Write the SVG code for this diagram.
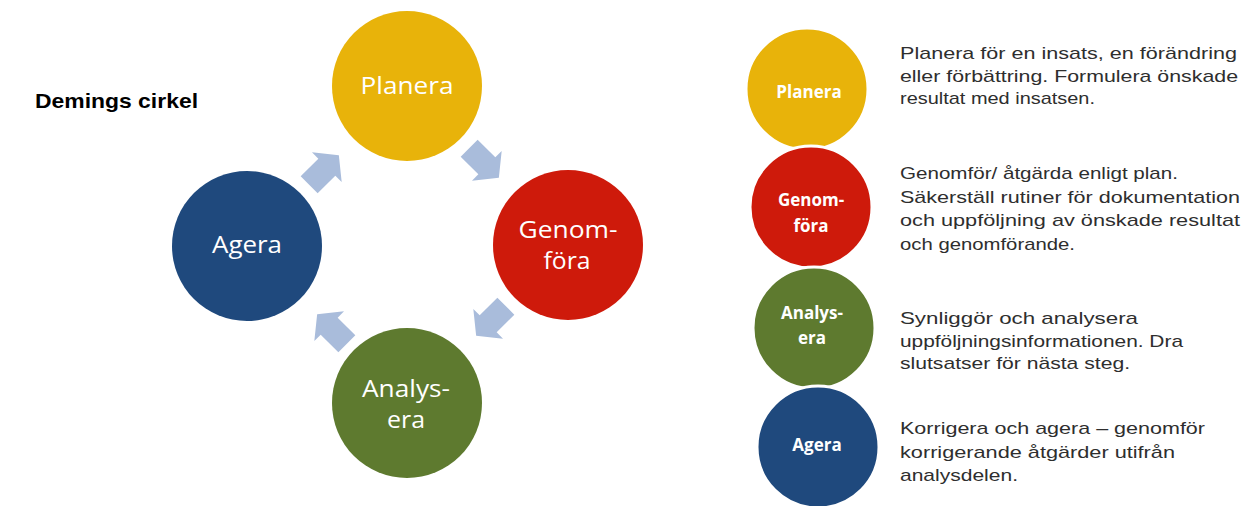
<svg xmlns="http://www.w3.org/2000/svg" width="1245" height="506" viewBox="0 0 1245 506">
  <style>
    .big { font-family: "Open Sans", "Noto Sans", sans-serif; font-size: 24px; fill: #ffffff; text-anchor: middle; }
    .small { font-family: "Open Sans", "Noto Sans", sans-serif; font-size: 17px; font-weight: bold; fill: #ffffff; text-anchor: middle; }
    .desc { font-family: "Liberation Sans", Arial, sans-serif; font-size: 17px; fill: #2e2e2e; }
    .title { font-family: "Liberation Sans", Arial, sans-serif; font-size: 21px; font-weight: bold; fill: #000000; }
    .ring { stroke: #ffffff; stroke-width: 3; }
    .arrow { fill: #A9BCDB; }
  </style>
  <defs>
    <polygon id="blockArrow" points="-21,-12 4,-12 4,-21 21,0 4,21 4,12 -21,12"/>
  </defs>
  <rect width="1245" height="506" fill="#ffffff"/>

  <g id="title">
    <text class="title" x="35" y="108" textLength="163" lengthAdjust="spacingAndGlyphs">Demings cirkel</text>
  </g>

  <!-- Cycle -->
  <g id="connectors">
    <use href="#blockArrow" class="arrow" transform="translate(484,163) rotate(45)"/>
    <use href="#blockArrow" class="arrow" transform="translate(491,321) rotate(135)"/>
    <use href="#blockArrow" class="arrow" transform="translate(332,329) rotate(225)"/>
    <use href="#blockArrow" class="arrow" transform="translate(324,170) rotate(-45)"/>
  </g>

  <g id="cycle-planera">
    <circle cx="407" cy="86" r="75" fill="#E8B30A"/>
    <text class="big" x="407" y="94" textLength="93" lengthAdjust="spacingAndGlyphs">Planera</text>
  </g>
  <g id="cycle-genomfora">
    <circle cx="568" cy="245" r="75" fill="#CE1A0B"/>
    <text class="big" x="568" y="238" textLength="99" lengthAdjust="spacingAndGlyphs">Genom-</text>
    <text class="big" x="567" y="269" textLength="47" lengthAdjust="spacingAndGlyphs">föra</text>
  </g>
  <g id="cycle-analysera">
    <circle cx="407" cy="403" r="75" fill="#5E7A2F"/>
    <text class="big" x="406" y="397" textLength="88" lengthAdjust="spacingAndGlyphs">Analys-</text>
    <text class="big" x="406" y="428" textLength="38" lengthAdjust="spacingAndGlyphs">era</text>
  </g>
  <g id="cycle-agera">
    <circle cx="247" cy="246" r="75" fill="#1F497D"/>
    <text class="big" x="247" y="253" textLength="70" lengthAdjust="spacingAndGlyphs">Agera</text>
  </g>

  <!-- Legend -->
  <g id="legend-planera">
    <circle class="ring" cx="807" cy="89" r="61" fill="#E8B30A"/>
    <text class="small" x="809" y="98">Planera</text>
    <text class="desc" x="900" y="59" textLength="337" lengthAdjust="spacingAndGlyphs">Planera för en insats, en förändring</text>
    <text class="desc" x="900" y="81.5" textLength="338" lengthAdjust="spacingAndGlyphs">eller förbättring. Formulera önskade</text>
    <text class="desc" x="900" y="104" textLength="195" lengthAdjust="spacingAndGlyphs">resultat med insatsen.</text>
  </g>
  <g id="legend-genomfora">
    <circle class="ring" cx="811" cy="207" r="61" fill="#CE1A0B"/>
    <text class="small" x="811" y="206">Genom-</text>
    <text class="small" x="811" y="232">föra</text>
    <text class="desc" x="900" y="179" textLength="278" lengthAdjust="spacingAndGlyphs">Genomför/ åtgärda enligt plan.</text>
    <text class="desc" x="900" y="202.5" textLength="340" lengthAdjust="spacingAndGlyphs">Säkerställ rutiner för dokumentation</text>
    <text class="desc" x="900" y="226" textLength="340" lengthAdjust="spacingAndGlyphs">och uppföljning av önskade resultat</text>
    <text class="desc" x="900" y="249.5" textLength="175" lengthAdjust="spacingAndGlyphs">och genomförande.</text>
  </g>
  <g id="legend-analysera">
    <circle class="ring" cx="814" cy="328" r="61" fill="#5E7A2F"/>
    <text class="small" x="812" y="319">Analys-</text>
    <text class="small" x="812" y="344">era</text>
    <text class="desc" x="900" y="324" textLength="238" lengthAdjust="spacingAndGlyphs">Synliggör och analysera</text>
    <text class="desc" x="900" y="346.5" textLength="283" lengthAdjust="spacingAndGlyphs">uppföljningsinformationen.  Dra</text>
    <text class="desc" x="900" y="369" textLength="230" lengthAdjust="spacingAndGlyphs">slutsatser för nästa steg.</text>
  </g>
  <g id="legend-agera">
    <circle class="ring" cx="818" cy="447" r="61" fill="#1F497D"/>
    <text class="small" x="817" y="451">Agera</text>
    <text class="desc" x="900" y="434" textLength="305" lengthAdjust="spacingAndGlyphs">Korrigera och agera – genomför</text>
    <text class="desc" x="900" y="458" textLength="275" lengthAdjust="spacingAndGlyphs">korrigerande åtgärder utifrån</text>
    <text class="desc" x="900" y="481" textLength="118" lengthAdjust="spacingAndGlyphs">analysdelen.</text>
  </g>
</svg>
